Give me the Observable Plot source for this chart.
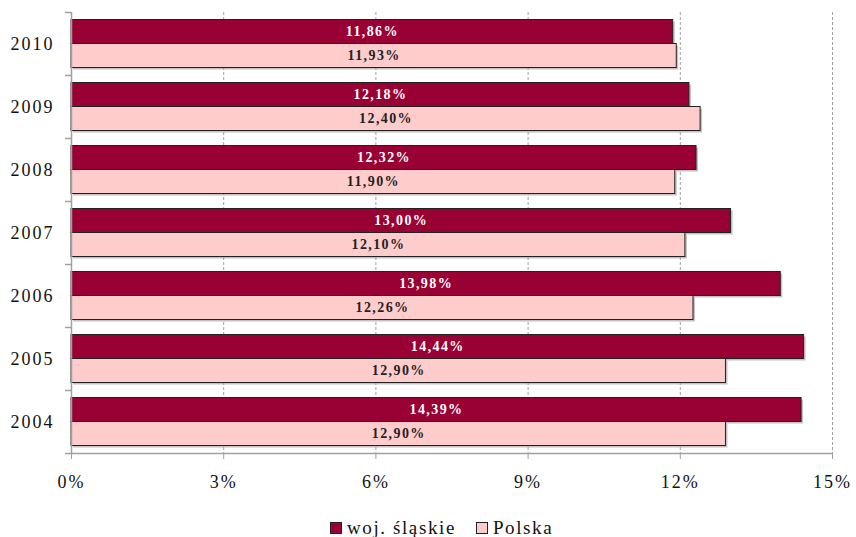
<!DOCTYPE html>
<html>
<head>
<meta charset="utf-8">
<script src="https://cdn.jsdelivr.net/npm/d3@7"></script>
<script src="https://cdn.jsdelivr.net/npm/@observablehq/plot@0.6"></script>
<style>
  html, body { margin: 0; padding: 0; background: #fff; }
  #chart svg text { letter-spacing: 1.4px; }
  #chart svg [aria-label$="tick label"] text { letter-spacing: 2px; }
  #legend { height: 27px; padding-top: 9px; box-sizing: border-box; padding-left: 330px;
    font-family: "Liberation Serif", "Times New Roman", serif; font-size: 19px; letter-spacing: 1.6px;
    display: flex; align-items: center; line-height: 18px; color: #111; }
  .sw { display: inline-block; width: 10px; height: 10px; border: 1px solid #222; margin-right: 5px; }
  .item { display: flex; align-items: center; margin-right: 20px; }
</style>
</head>
<body>
<div id="chart"></div>
<div id="legend"></div>
<script>
const years = [2010, 2009, 2008, 2007, 2006, 2005, 2004];
const slaskie = [11.86, 12.18, 12.32, 13.00, 13.98, 14.44, 14.39];
const polska = [11.93, 12.40, 11.90, 12.10, 12.26, 12.90, 12.90];
const seriesNames = ["woj. śląskie", "Polska"];
const seriesColors = ["#990033", "#FFCCCC"];
const xTicks = [0, 3, 6, 9, 12, 15];

const W = 856, H = 510, mt = 12, mb = 57, ml = 71, mr = 24;
const step = (H - mt - mb) / years.length;
const half = step / 2;
const barH = 24;
const gap = (step - 2 * barH) / 2;

const rowsA = years.map((y, i) => ({year: y, series: seriesNames[0], value: slaskie[i]}));
const rowsB = years.map((y, i) => ({year: y, series: seriesNames[1], value: polska[i]}));
const fmt = d => d.value.toFixed(2).replace(".", ",") + "%";

const plot = Plot.plot({
  width: W, height: H,
  marginTop: mt, marginBottom: mb, marginLeft: ml, marginRight: mr,
  style: {fontFamily: "'Liberation Serif', 'Times New Roman', serif", background: "#fff"},
  x: {domain: [0, 15], axis: null},
  y: {type: "band", domain: years, padding: 0, axis: null},
  marks: [
    Plot.ruleX(xTicks.slice(1), {stroke: "#a0a0a0", strokeDasharray: "3,2"}),
    // shadows
    Plot.barX(rowsA, {x: "value", y: "year", fill: "#999", fillOpacity: 0.6, insetTop: gap, insetBottom: gap + barH, dx: 2, dy: 2}),
    Plot.barX(rowsB, {x: "value", y: "year", fill: "#999", fillOpacity: 0.6, insetTop: gap + barH, insetBottom: gap, dx: 2, dy: 2}),
    Plot.barX(rowsA, {x: "value", y: "year", fill: seriesColors[0], stroke: "#222", strokeWidth: 1, insetTop: gap, insetBottom: gap + barH}),
    Plot.barX(rowsB, {x: "value", y: "year", fill: seriesColors[1], stroke: "#222", strokeWidth: 1, insetTop: gap + barH, insetBottom: gap}),
    // axis lines
    Plot.ruleX([0], {stroke: "#a0a0a0", strokeWidth: 1.5}),
    Plot.ruleY([years[years.length - 1]], {dy: half, stroke: "#a0a0a0", strokeWidth: 1.5}),
    // band boundary ticks on y axis
    Plot.ruleY(years, {x1: 0, x2: 0, insetLeft: -6, dy: -half, stroke: "#a0a0a0", strokeWidth: 1.5}),
    Plot.ruleY([years[years.length - 1]], {x1: 0, x2: 0, insetLeft: -6, dy: half, stroke: "#a0a0a0", strokeWidth: 1.5}),
    Plot.axisX({ticks: xTicks, tickFormat: d => d + "%", tickSize: 6, tickPadding: 16, fontSize: 18, stroke: "#a0a0a0", fill: "#111", label: null}),
    Plot.axisY({tickSize: 0, tickPadding: 17, fontSize: 18, fill: "#111", label: null, tickFormat: d => String(d)}),
    Plot.text(rowsA, {x: d => d.value / 2, y: "year", dy: -(barH / 2), text: fmt, fill: "white", fontWeight: "bold", fontSize: 14}),
    Plot.text(rowsB, {x: d => d.value / 2, y: "year", dy: (barH / 2), text: fmt, fill: "#222", fontWeight: "bold", fontSize: 14})
  ]
});
document.getElementById("chart").appendChild(plot);

const leg = document.getElementById("legend");
seriesNames.forEach((n, i) => {
  const it = document.createElement("span");
  it.className = "item";
  const sw = document.createElement("span");
  sw.className = "sw";
  sw.style.background = seriesColors[i];
  it.appendChild(sw);
  it.appendChild(document.createTextNode(n));
  leg.appendChild(it);
});
</script>
</body>
</html>
